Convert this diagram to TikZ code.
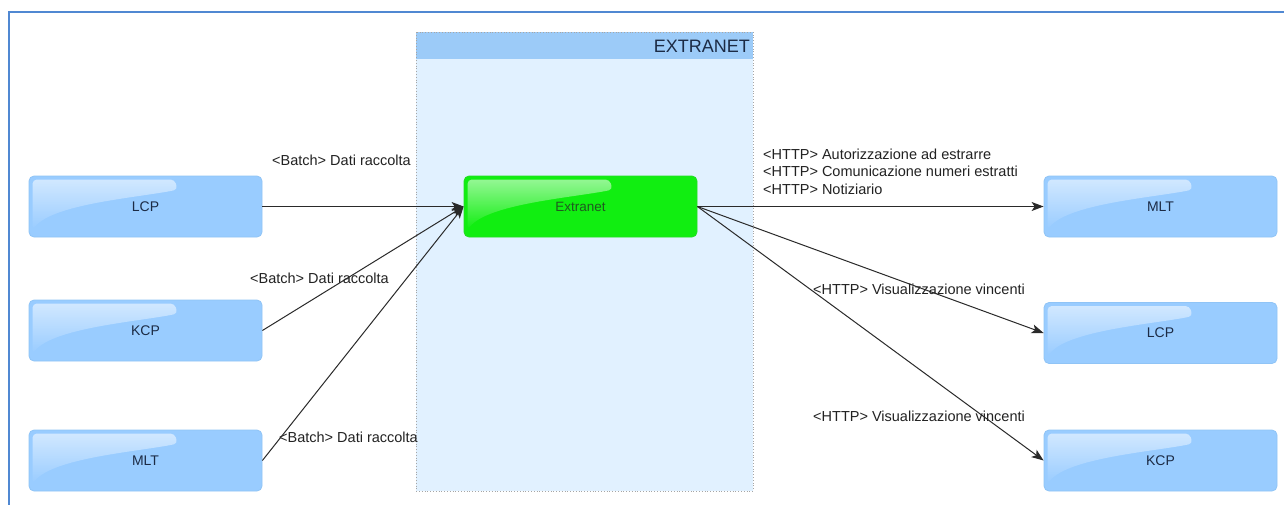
\documentclass[tikz,border=0pt]{standalone}
\usepackage{fontspec}
\setmainfont{Liberation Sans}
\usetikzlibrary{arrows.meta,calc,fadings}
\definecolor{boxblue}{HTML}{99CCFF}
\definecolor{boxedge}{HTML}{90C4F6}
\definecolor{grfill}{HTML}{11EE11}
\definecolor{gredge}{HTML}{22DD22}
\definecolor{navy}{HTML}{1C2B45}
\definecolor{dkgreen}{HTML}{1F5A1F}
\definecolor{cbody}{HTML}{E1F1FF}
\definecolor{chead}{HTML}{9CCBF8}
\definecolor{frameblue}{HTML}{5088D2}
\definecolor{lbl}{HTML}{222222}
\definecolor{lineclr}{HTML}{2A2A2A}
\newcommand\glossy[1]{%
  \fill[white,fill opacity=.55,path fading=south,rounded corners=4pt]
    ($(#1.north west)+(4,4)$) -- ($(#1.north west)+(146,4)$) -- ($(#1.north west)+(149,14)$)
    .. controls ($(#1.north west)+(110,22)$) and ($(#1.north west)+(25,28)$) .. ($(#1.north west)+(4,54)$) -- cycle;}
\begin{document}
\begin{tikzpicture}[x=1pt,y=-1pt,
  sysbox/.style={rectangle, rounded corners=5pt, fill=boxblue, draw=boxedge, line width=0.8pt,
    minimum width=233pt, minimum height=61pt, inner sep=0pt,
    font=\fontsize{14}{16}\selectfont, text=navy},
  extbox/.style={sysbox, fill=grfill, draw=gredge, text=dkgreen, font=\fontsize{13.5}{15}\selectfont},
  lab/.style={anchor=west, inner sep=0pt, text=lbl, font=\fontsize{14.5}{17.5}\selectfont, align=left},
  conn/.style={draw=lineclr, line width=1pt, -{Stealth[length=12pt,width=9pt,inset=3pt]}}
]
\useasboundingbox (0,0) rectangle (1284,504);
\clip (0,0) rectangle (1284,504);
\fill[white] (0,0) rectangle (1284,504);
% outer frame
\draw[frameblue, line width=2pt] (9,12) rectangle (1300,520);
% container
\fill[cbody] (416,32) rectangle (753,491);
\fill[chead] (416,32) rectangle (753,59);
\draw[gray!70, dotted, line width=0.8pt] (416,32) rectangle (753,491);
\node[anchor=east, inner sep=0pt, text=navy, font=\fontsize{18}{20}\selectfont] (title) at (750,46) {EXTRANET};

% nodes
\node[sysbox] (lcpL) at (145.5,206.5) {LCP};
\node[sysbox] (kcpL) at (145.5,330.5) {KCP};
\node[sysbox] (mltL) at (145.5,460.5) {MLT};
\node[extbox] (ext) at (580.5,206.5) {Extranet};
\node[sysbox] (mltR) at (1160.5,206.5) {MLT};
\node[sysbox] (lcpR) at (1160.5,333) {LCP};
\node[sysbox] (kcpR) at (1160.5,460.5) {KCP};
\glossy{lcpL}\glossy{kcpL}\glossy{mltL}\glossy{ext}\glossy{mltR}\glossy{lcpR}\glossy{kcpR}

% labels
\node[lab] (b1) at (272,160) {<Batch> Dati raccolta};
\node[lab] (b2) at (250,278) {<Batch> Dati raccolta};
\node[lab] (b3) at (279,437.5) {<Batch> Dati raccolta};
\node[lab] (h1) at (763,171.5) {<HTTP> Autorizzazione ad estrarre\\<HTTP> Comunicazione numeri estratti\\<HTTP> Notiziario};
\node[lab] (v1) at (813,289) {<HTTP> Visualizzazione vincenti};
\node[lab] (v2) at (813,416) {<HTTP> Visualizzazione vincenti};

% connectors
\draw[conn] (lcpL.east) -- (ext.west);
\draw[conn] (kcpL.east) -- (ext.west);
\draw[conn] (mltL.east) -- (ext.west);
\draw[conn] (ext.east) -- (mltR.west);
\draw[conn] (ext.east) -- (lcpR.west);
\draw[conn] (ext.east) -- (kcpR.west);
\end{tikzpicture}
\end{document}
